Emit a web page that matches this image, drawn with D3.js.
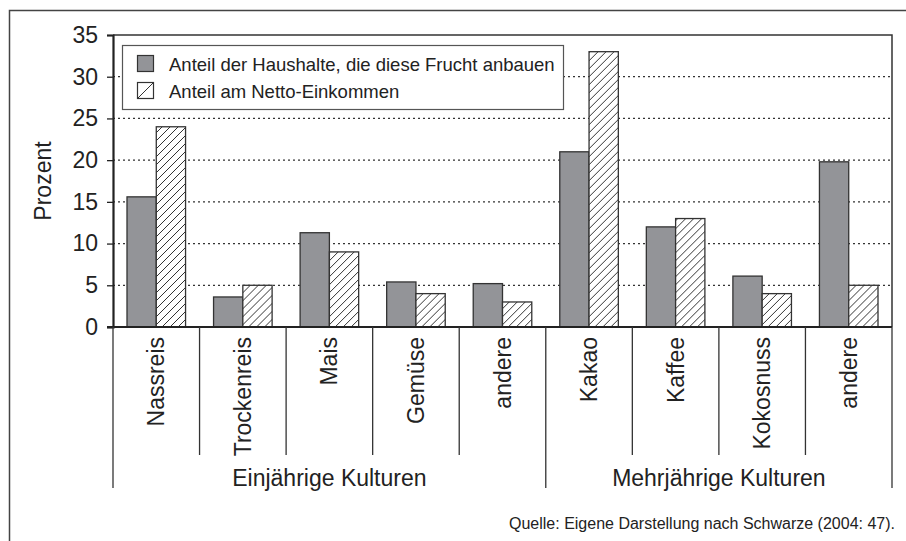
<!DOCTYPE html>
<html><head><meta charset="utf-8">
<script src="https://cdn.jsdelivr.net/npm/d3@7"></script>
<style>
body{margin:0;background:#fff;}
svg{display:block;font-family:"Liberation Sans",Arial,Helvetica,sans-serif;}
</style></head>
<body>
<svg id="chart" width="906" height="541"></svg>
<script>
const categories = ["Nassreis","Trockenreis","Mais","Gemüse","andere","Kakao","Kaffee","Kokosnuss","andere"];
const haushalte = [15.6, 3.6, 11.3, 5.4, 5.2, 21.0, 12.0, 6.1, 19.8];
const einkommen = [24.0, 5.0, 9.0, 4.0, 3.0, 33.0, 13.0, 4.0, 5.0];
const seriesNames = ["Anteil der Haushalte, die diese Frucht anbauen","Anteil am Netto-Einkommen"];
const groups = [{label:"Einjährige Kulturen", start:0, end:5},{label:"Mehrjährige Kulturen", start:5, end:9}];
const yTicks = [0,5,10,15,20,25,30,35];
const yLabel = "Prozent";
const source = "Quelle: Eigene Darstellung nach Schwarze (2004: 47).";

const svg = d3.select("#chart");
const ink = "#222";
const L = 113, R = 892, T = 35, B = 327;

// outer frame (right/bottom outside)
svg.append("path").attr("d","M9.5,541V10.5H906").attr("fill","none").attr("stroke","#444").attr("stroke-width",1.5);

const defs = svg.append("defs");
const pat = defs.append("pattern").attr("id","hatch").attr("patternUnits","userSpaceOnUse")
  .attr("width",8).attr("height",8);
pat.append("rect").attr("width",8).attr("height",8).attr("fill","#fff");
pat.append("path").attr("d","M-2,10L10,-2M-2,2L2,-2M6,10L10,6").attr("stroke","#333").attr("stroke-width",1);

const idx = categories.map((c,i)=>i);
const x0 = d3.scaleBand().domain(idx).range([L,R]).paddingInner(0).paddingOuter(0);
const bw = x0.bandwidth();
const x1 = d3.scaleBand().domain([0,1]).range([14, bw-14]).padding(0);
const y = d3.scaleLinear().domain([0,35]).range([B,T]);

// gridlines
svg.append("g").selectAll("line").data(yTicks.filter(t=>t>0 && t<35)).join("line")
  .attr("x1",L).attr("x2",R).attr("y1",d=>y(d)).attr("y2",d=>y(d))
  .attr("stroke","#333").attr("stroke-width",1.3).attr("stroke-dasharray","2,3");

// plot frame top/right
svg.append("path").attr("d",`M${L},${y(35)}H${R}V${B}`).attr("fill","none").attr("stroke","#333").attr("stroke-width",1.5);

// bars
const data = idx.map(i=>({i, vals:[haushalte[i], einkommen[i]]}));
const cg = svg.append("g").selectAll("g").data(data).join("g").attr("transform",d=>`translate(${x0(d.i)},0)`);
cg.selectAll("rect").data(d=>d.vals.map((v,s)=>({v,s}))).join("rect")
  .attr("x",d=>x1(d.s)).attr("width",x1.bandwidth())
  .attr("y",d=>y(d.v)).attr("height",d=>y(0)-y(d.v))
  .attr("fill",d=>d.s===0?"#939498":"url(#hatch)")
  .attr("stroke","#333").attr("stroke-width",1.3);

// y axis
const yAxis = d3.axisLeft(y).tickValues(yTicks).tickSize(6).tickPadding(9);
const ya = svg.append("g").attr("transform",`translate(${L},0)`).call(yAxis);
ya.select(".domain").attr("stroke",ink).attr("stroke-width",2.2);
ya.selectAll(".tick line").attr("stroke",ink).attr("stroke-width",1.3);
ya.selectAll(".tick text").attr("fill",ink).style("font-size","23px").style("font-family","'Liberation Sans',Arial,sans-serif");

// x axis line
svg.append("line").attr("x1",L-6).attr("x2",R).attr("y1",B).attr("y2",B).attr("stroke",ink).attr("stroke-width",2.2);

// separators
const bounds = d3.range(0, categories.length+1);
svg.append("g").selectAll("line").data(bounds).join("line")
  .attr("x1",d=>d===categories.length?R:x0(d)).attr("x2",d=>d===categories.length?R:x0(d))
  .attr("y1",B).attr("y2",d=>(d===0||d===5||d===categories.length)?488:455)
  .attr("stroke","#333").attr("stroke-width",1.3);

// category labels
svg.append("g").selectAll("text").data(idx).join("text")
  .attr("transform",d=>`translate(${x0(d)+bw/2},337) rotate(-90)`)
  .attr("text-anchor","end").attr("dy","0.35em")
  .attr("fill",ink).style("font-size","23px").text(d=>categories[d]);

// group labels
svg.append("g").selectAll("text").data(groups).join("text")
  .attr("x",d=>(x0(d.start)+(d.end===categories.length?R:x0(d.end)))/2).attr("y",486)
  .attr("text-anchor","middle").attr("fill",ink).style("font-size","23px").text(d=>d.label);

// y label
svg.append("text").attr("transform",`translate(43,${(T+B)/2}) rotate(-90)`)
  .attr("text-anchor","middle").attr("dy","0.35em").attr("fill",ink).style("font-size","23px").text(yLabel);

// legend
const lg = svg.append("g");
lg.append("rect").attr("x",122.5).attr("y",45.5).attr("width",441).attr("height",64)
  .attr("fill","#fff").attr("stroke","#555").attr("stroke-width",1.2);
const li = lg.selectAll("g").data(seriesNames).join("g").attr("transform",(d,i)=>`translate(0,${i*27})`);
li.append("rect").attr("x",137.5).attr("y",55.5).attr("width",16).attr("height",16)
  .attr("fill",(d,i)=>i===0?"#939498":"#fff").attr("stroke","#333").attr("stroke-width",1.2);
li.filter((d,i)=>i===1).append("line").attr("x1",137.5).attr("y1",71.5).attr("x2",153.5).attr("y2",55.5)
  .attr("stroke","#333").attr("stroke-width",1);
li.append("text").attr("x",169).attr("y",71).attr("fill",ink).style("font-size","18.5px").text(d=>d);

// source
svg.append("text").attr("x",895).attr("y",529).attr("text-anchor","end").attr("fill",ink)
  .style("font-size","16px").text(source);
</script>
</body></html>
